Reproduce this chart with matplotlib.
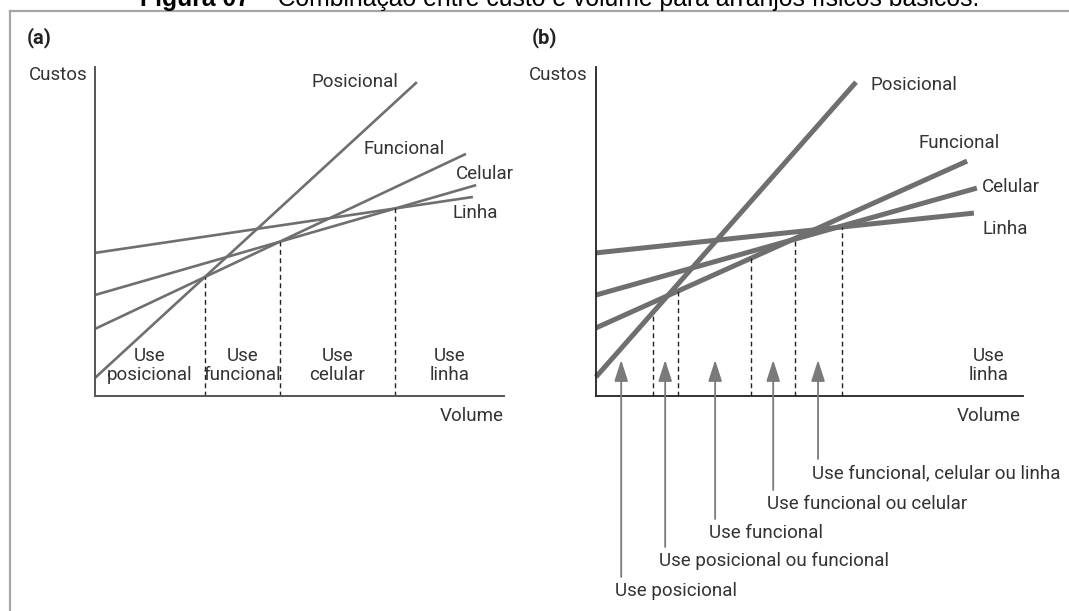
import matplotlib
matplotlib.use("Agg")
import matplotlib.pyplot as plt
from matplotlib.lines import Line2D

# ---------------- data ----------------
categories = ["Posicional", "Funcional", "Celular", "Linha"]

# panel (a): cost at zero volume, and end point of each line (volume, cost)
a_start = [5.5, 20.4, 30.7, 43.5]
a_end_x = [78.7, 90.7, 93.2, 92.4]
a_end_y = [95.4, 73.6, 64.1, 60.5]
a_regions = ["Use\nposicional", "Use\nfuncional", "Use\ncelular", "Use\nlinha"]

# panel (b)
b_start = [5.8, 20.7, 30.7, 43.5]
b_end_x = [60.9, 86.9, 89.2, 88.5]
b_end_y = [95.4, 71.4, 63.2, 55.6]
b_bounds = [13.3, 19.2, 36.3, 46.6, 57.6]
b_arrow_x = [5.9, 16.2, 27.9, 41.5, 52.0]
b_choices = ["Use posicional", "Use posicional ou funcional", "Use funcional",
             "Use funcional ou celular", "Use funcional, celular ou linha"]
b_last_region = "Use\nlinha"

title_bold = "Figura 07"
title_rest = " \u2013 Combinação entre custo e volume para arranjos físicos básicos."

# ---------------- layout / style ----------------
W, H = 1069, 611
FS = 13.5
TXT = "#333333"
LINE = "#6f6f6f"
ARROW = "#7a7a7a"
plt.rcParams["font.family"] = ["Roboto", "DejaVu Sans"]

fig = plt.figure(figsize=(W / 100, H / 100), dpi=100)
fig.patch.set_facecolor("white")


def fpx(x, y):
    return (x / W, 1 - y / H)


def px_axes(left, right, top, bottom):
    ax = fig.add_axes([left / W, 1 - bottom / H, (right - left) / W, (bottom - top) / H])
    ax.set_xlim(0, 100)
    ax.set_ylim(0, 100)
    ax.set_xticks([])
    ax.set_yticks([])
    for s in ("top", "right"):
        ax.spines[s].set_visible(False)
    ax.patch.set_alpha(0)
    return ax


def slope(st, ex, ey, i):
    return (ey[i] - st[i]) / ex[i]


def envelope(st, ex, ey, x):
    return min(st[i] + slope(st, ex, ey, i) * x for i in range(len(st)))


# title (clipped at the top edge, as in the reference)
TFS = 17.8
t1 = fig.text(*fpx(140, 6), title_bold, family="Liberation Sans", fontweight="bold",
              fontsize=TFS, va="baseline", ha="left", color="black")
fig.canvas.draw()
bb = t1.get_window_extent()
fig.text(bb.x1 / W, 1 - 6 / H, title_rest, family="Liberation Sans", fontsize=TFS,
         va="baseline", ha="left", color="black")

# frame
fig.add_artist(Line2D([10 / W, 1], [1 - 11 / H] * 2, transform=fig.transFigure,
                      color="#a6a6a6", lw=1.6))
fig.add_artist(Line2D([10 / W] * 2, [0, 1 - 11 / H], transform=fig.transFigure,
                      color="#a6a6a6", lw=1.6))

# ---------------- panel (a) ----------------
axA = px_axes(95, 504, 67, 396)
for s in ("left", "bottom"):
    axA.spines[s].set_color("#555555")
    axA.spines[s].set_linewidth(1.4)
for i in range(len(categories)):
    axA.plot([0, a_end_x[i]], [a_start[i], a_end_y[i]], color=LINE, lw=1.9,
             solid_capstyle="butt", clip_on=False)

a_bounds = []
for i in range(len(categories) - 1):
    mi = slope(a_start, a_end_x, a_end_y, i)
    mj = slope(a_start, a_end_x, a_end_y, i + 1)
    a_bounds.append((a_start[i + 1] - a_start[i]) / (mi - mj))
for b in a_bounds:
    axA.plot([b, b], [0, envelope(a_start, a_end_x, a_end_y, b)], color="#222222",
             lw=1.0, ls=(0, (3.5, 2.5)))
edges = [0] + a_bounds + [100]
for k, lab in enumerate(a_regions):
    mid = (edges[k] + edges[k + 1]) / 2
    axA.text(mid, 9.3, lab, ha="center", va="center", fontsize=FS, color=TXT,
             linespacing=1.05)

fig.text(*fpx(87, 75), "Custos", ha="right", va="center", fontsize=FS, color=TXT)
fig.text(*fpx(504, 416), "Volume", ha="right", va="center", fontsize=FS, color=TXT)
fig.text(*fpx(27, 38), "(a)", ha="left", va="center", fontsize=14.5,
         fontweight="bold", color="#222222")
a_label_pos = [(398, 82, "right"), (445, 149, "right"), (456, 174, "left"), (453, 213, "left")]
for (x, y, ha), lab in zip(a_label_pos, categories):
    fig.text(*fpx(x, y), lab, ha=ha, va="center", fontsize=FS, color=TXT)

# ---------------- panel (b) ----------------
B_L, B_R, B_T, B_B = 596, 1023, 67, 396
axB = px_axes(B_L, B_R, B_T, B_B)
for s in ("left", "bottom"):
    axB.spines[s].set_color("#222222")
    axB.spines[s].set_linewidth(1.3)
for i in range(len(categories)):
    axB.plot([0, b_end_x[i]], [b_start[i], b_end_y[i]], color=LINE, lw=3.6,
             solid_capstyle="butt", clip_on=False)
for b in b_bounds:
    axB.plot([b, b], [0, envelope(b_start, b_end_x, b_end_y, b)], color="#222222",
             lw=1.0, ls=(0, (3.5, 2.5)))

ypx = (B_B - B_T) / 100.0
xpx = (B_R - B_L) / 100.0
tip_y = (B_B - 360) / ypx
label_py = [591, 561, 533, 504, 473]
for ax_x, lab, ly in zip(b_arrow_x, b_choices, label_py):
    tail = (B_B - (ly - 14)) / ypx
    axB.annotate("", xy=(ax_x, tip_y), xytext=(ax_x, tail), annotation_clip=False,
                 arrowprops=dict(arrowstyle="-|>,head_length=1.3,head_width=0.42",
                                 color=ARROW, lw=1.3, shrinkA=0, shrinkB=0))
    fig.text(*fpx(B_L + ax_x * xpx - 6, ly), lab, ha="left", va="center",
             fontsize=FS, color=TXT)

fig.text(*fpx(989, 365.5), b_last_region, ha="center", va="center", fontsize=FS,
         color=TXT, linespacing=1.05)
fig.text(*fpx(588, 75), "Custos", ha="right", va="center", fontsize=FS, color=TXT)
fig.text(*fpx(1021, 416), "Volume", ha="right", va="center", fontsize=FS, color=TXT)
fig.text(*fpx(532, 38), "(b)", ha="left", va="center", fontsize=14.5,
         fontweight="bold", color="#222222")
b_label_pos = [(870, 85), (919, 143), (982, 187), (983, 229)]
for (x, y), lab in zip(b_label_pos, categories):
    fig.text(*fpx(x, y), lab, ha="left", va="center", fontsize=FS, color=TXT)

fig.savefig("out.png", dpi=100, facecolor="white")
